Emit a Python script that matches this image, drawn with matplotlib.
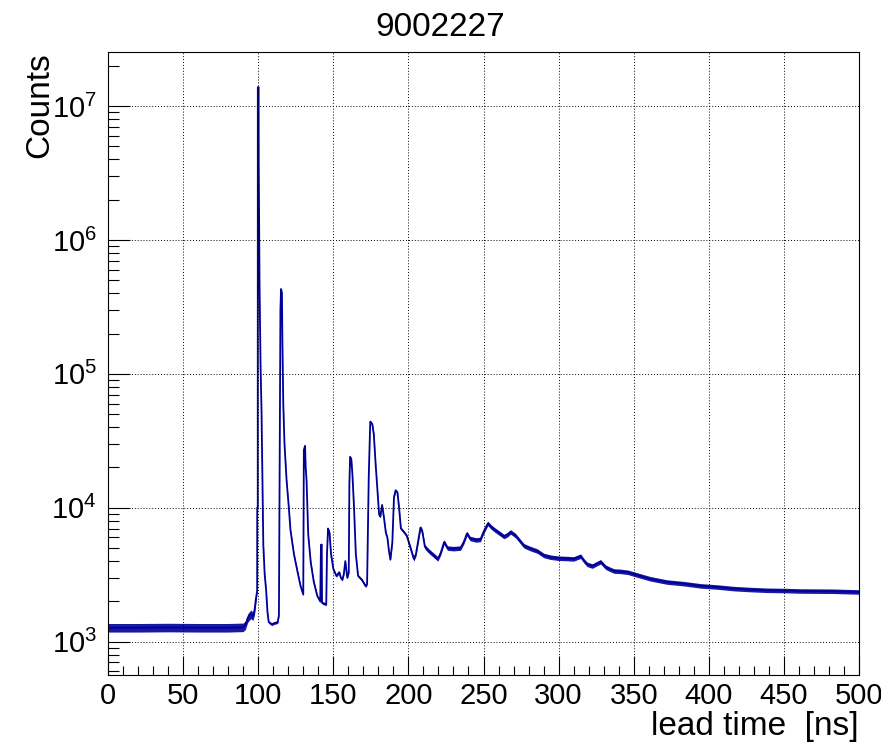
import matplotlib.pyplot as plt
import numpy as np
from matplotlib.ticker import MultipleLocator, LogLocator, LogFormatterSciNotation, NullFormatter

plt.rcParams['font.family'] = ['Liberation Sans', 'DejaVu Sans']
plt.rcParams['mathtext.fontset'] = 'custom'
plt.rcParams['mathtext.rm'] = 'Liberation Sans'
plt.rcParams['mathtext.it'] = 'Liberation Sans:italic'

title = '9002227'
x_label = 'lead time  [ns]'
y_label = 'Counts'

# values (lead time in ns, counts per bin)
lead_time_ns = [
    0, 20, 40, 60, 80, 90, 91.5, 93, 95, 96.5, 97.5, 98.5, 99.3,
    99.35, 99.7, 99.75, 100.3, 100.35, 100.9, 101.6, 102.2, 102.8, 103.4,
    104.3, 105.3, 106.2, 107, 109, 111, 113, 113.8,
    114.3, 114.8, 115.2, 115.8, 116.1, 116.7, 117.5, 118.9, 120.4, 121.5,
    123.8, 126, 128.2, 130,
    130.4, 131.2, 131.6, 132.2, 133.3, 135, 137, 139.3, 141.3, 141.8,
    142.3, 142.5, 145.3, 145.8, 146.5, 147.5, 148.5, 150, 152, 154, 155,
    156, 157, 158, 159.3, 160.3,
    160.7, 161.2, 162, 162.7, 163.8, 165, 166.5, 169, 171.5, 172.5,
    173.6, 174.6, 176, 177, 178.2, 179.3, 180.5, 181.3, 182.5, 183.8,
    185, 186, 187, 188, 189.3, 190.4, 191.5, 192.7, 193.8, 195, 197,
    199, 201.4, 203.6, 205, 208, 209.2, 211, 213.6, 217, 219.6, 221.5,
    223.8, 226, 230, 234.7, 237, 239, 241, 245, 248, 250, 252.9, 255,
    257, 260.2, 263.6, 266, 268, 271.3, 274, 276.9, 281.3, 285.8, 290.2,
    294.7, 300, 305, 310, 314.7, 317, 319, 322.4, 326, 328, 331.3, 334.7,
    337, 341, 346, 350, 361, 372, 383.5, 394.6, 405.6, 416.7, 427.8, 439,
    450, 461, 483, 500,
]
counts = [
    1270, 1270, 1275, 1270, 1270, 1280, 1330, 1500, 1600, 1550, 1700, 2100, 2400,
    1.0e4, 1.0e4, 1.38e7, 1.38e7, 3.9e6, 4.5e5, 1.1e5, 5.4e4, 1.6e4, 5300,
    3200, 2400, 1650, 1400, 1350, 1380, 1400, 1580,
    2.6e4, 3.0e5, 4.3e5, 4.0e5, 1.8e5, 5.9e4, 3.0e4, 1.6e4, 1.0e4, 6800,
    4500, 3400, 2600, 2250,
    2.7e4, 2.9e4, 2.0e4, 1.6e4, 6300, 3900, 2800, 2200, 2000, 5300,
    5300, 1950, 1900, 4500, 7000, 6500, 4500, 3500, 3100, 3300, 3000,
    2900, 3200, 4000, 3000, 3300,
    1.5e4, 2.4e4, 2.3e4, 1.8e4, 1.0e4, 4500, 3100, 2900, 2600, 2700,
    1.7e4, 4.4e4, 4.2e4, 3.5e4, 2.1e4, 1.4e4, 8900, 8600, 1.05e4, 8300,
    6500, 6000, 4800, 4100, 5500, 1.2e4, 1.35e4, 1.3e4, 1.0e4, 7000, 6600,
    6150, 5000, 4150, 4500, 7100, 6700, 5100, 4750, 4400, 4150, 4600,
    5550, 5000, 4950, 5000, 5600, 6430, 5900, 5750, 5800, 6600, 7640, 7200,
    6900, 6500, 6100, 6300, 6600, 6200, 5700, 5200, 4950, 4750, 4400,
    4270, 4200, 4180, 4150, 4350, 4000, 3780, 3670, 3850, 3950, 3600, 3450,
    3370, 3350, 3300, 3200, 2950, 2790, 2710, 2610, 2560, 2490, 2450, 2420,
    2410, 2390, 2380, 2350,
]
# half-width of the bin-to-bin scatter band, in decades, per lead-time range
noise_ranges = [(0, 99.3, 0.032), (99.3, 200, 0.010), (200, 500.1, 0.017)]

t = np.array(lead_time_ns)
y = np.array(counts)
noise = np.zeros_like(t)
for lo, hi, d in noise_ranges:
    noise[(t >= lo) & (t < hi)] = d

line_color = '#000099'

fig = plt.figure(figsize=(8.81, 7.47), dpi=100)
ax = fig.add_axes([108 / 881, 1 - 675 / 747, 751 / 881, 623 / 747])

ax.fill_between(t, y * 10 ** (-noise), y * 10 ** noise, color=line_color,
                linewidth=0, alpha=0.9)
ax.plot(t, y, color=line_color, linewidth=1.3)

ax.set_yscale('log')
ax.set_xlim(0, 500)
ax.set_ylim(564, 2.53e7)

ax.xaxis.set_major_locator(MultipleLocator(50))
ax.xaxis.set_minor_locator(MultipleLocator(10))
ax.yaxis.set_major_locator(LogLocator(base=10))
ax.yaxis.set_minor_locator(LogLocator(base=10, subs=np.arange(2, 10)))
ax.yaxis.set_major_formatter(LogFormatterSciNotation())
ax.yaxis.set_minor_formatter(NullFormatter())

ax.tick_params(axis='both', which='both', direction='in', top=False, right=False,
               width=0.8, labelsize=21, colors='black')
ax.tick_params(axis='x', which='major', length=13.5, pad=5)
ax.tick_params(axis='x', which='minor', length=6.5)
ax.tick_params(axis='y', which='major', length=15.5, pad=8)
ax.tick_params(axis='y', which='minor', length=8)

for s in ax.spines.values():
    s.set_linewidth(0.8)

ax.grid(True, which='major', linestyle=(0, (1, 2)), color='black', linewidth=0.7)
ax.set_axisbelow(False)

# ROOT puts the histogram title centred on the canvas, not on the frame
fig.text(0.5, 1 - 28 / 747, title, fontsize=24, ha='center', va='center')
ax.set_xlabel(x_label, fontsize=24, loc='right')
ax.xaxis.set_label_coords(1.0, -0.058)
ax.set_ylabel(y_label, fontsize=24, loc='top')
ax.yaxis.set_label_coords(-0.07, 1.0)

fig.savefig('out.png', dpi=100)
